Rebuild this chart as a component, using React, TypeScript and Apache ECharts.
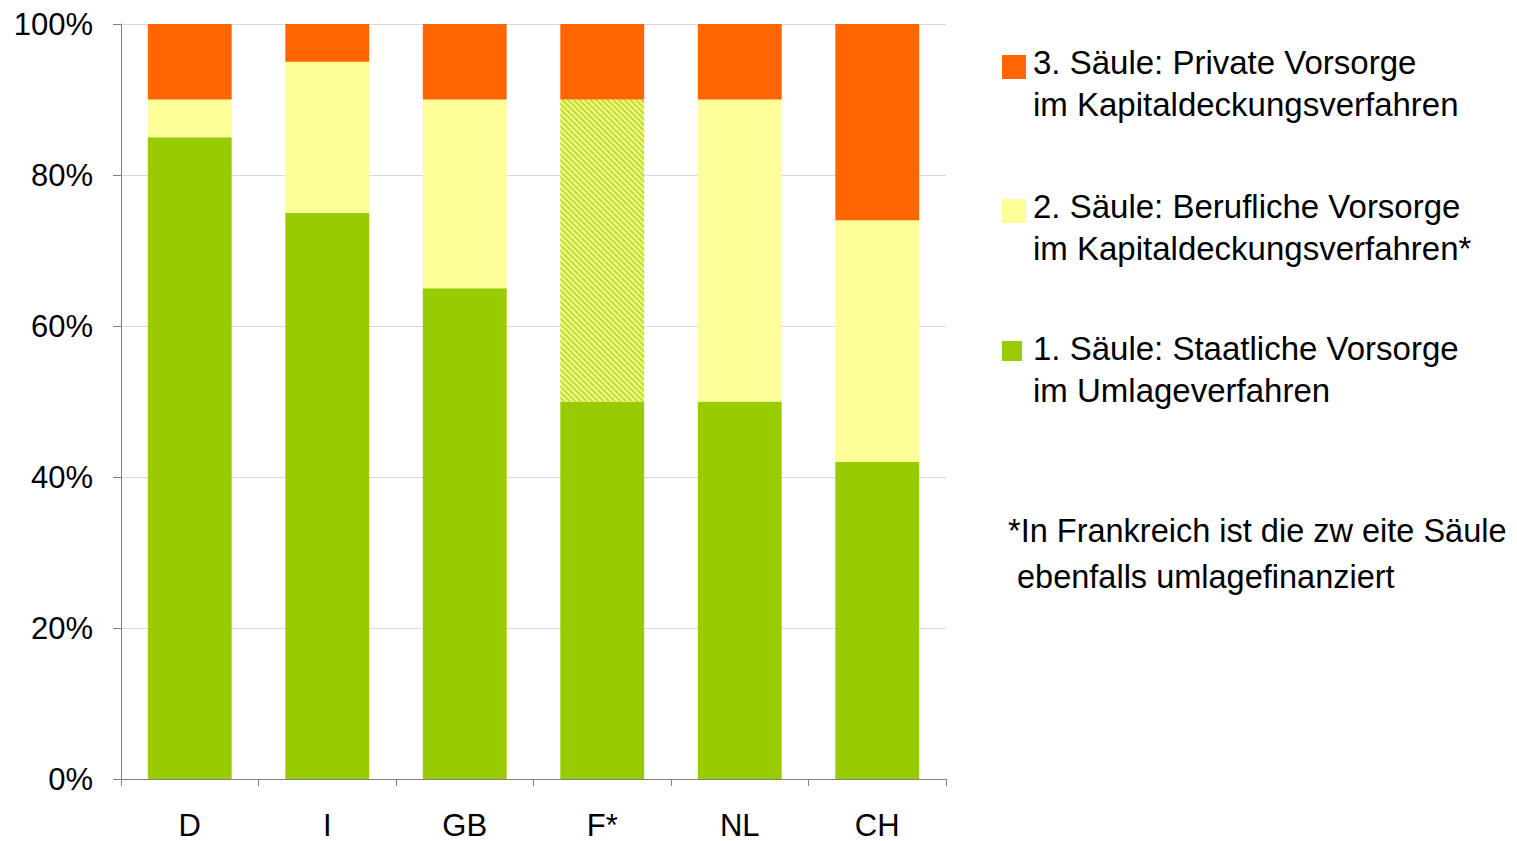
import React, { useEffect, useRef } from "react";
import * as echarts from "echarts";

const categories = ["D", "I", "GB", "F*", "NL", "CH"];
const staatlich = [85, 75, 65, 50, 50, 42];
const beruflich = [5, 20, 25, 40, 40, 32];
const privat = [10, 5, 10, 10, 10, 26];
const hatchedCategory = "F*";
const yTicks = [0, 20, 40, 60, 80, 100];

const seriesNames = [
  "1. Säule: Staatliche Vorsorge\nim Umlageverfahren",
  "2. Säule: Berufliche Vorsorge\nim Kapitaldeckungsverfahren*",
  "3. Säule: Private Vorsorge\nim Kapitaldeckungsverfahren",
];
const footnote = "*In Frankreich ist die zw eite Säule\n ebenfalls umlagefinanziert";

const GREEN = "#99CC00";
const YELLOW = "#FFFF99";
const ORANGE = "#FF6600";
const FONT = "'Liberation Sans', Arial, sans-serif";

export default function App() {
  const ref = useRef<HTMLDivElement>(null);
  useEffect(() => {
    if (!ref.current) return;
    const chart = echarts.init(ref.current, null, { renderer: "svg" });
    const beruflichData = beruflich.map((v, i) =>
      categories[i] === hatchedCategory
        ? {
            value: v,
            itemStyle: {
              color: "#F4FA84",
              decal: {
                symbol: "rect",
                symbolSize: 1,
                dashArrayX: [1, 0],
                dashArrayY: [1.5, 1.5],
                rotation: Math.PI / 4,
                color: "#BFDC3A",
              },
            },
          }
        : v
    );
    const legendItems = [
      { color: ORANGE, name: seriesNames[2], y: 62, size: 24 },
      { color: YELLOW, name: seriesNames[1], y: 206, size: 24 },
      { color: GREEN, name: seriesNames[0], y: 348, size: 20 },
    ];
    const graphics: any[] = [];
    legendItems.forEach((it) => {
      graphics.push({
        type: "rect",
        shape: { x: 1002, y: it.y - 7, width: it.size, height: it.size },
        style: { fill: it.color },
      });
      graphics.push({
        type: "text",
        x: 1033,
        y: it.y - 21,
        style: {
          text: it.name,
          font: `33px ${FONT}`,
          fill: "#000",
          lineHeight: 42,
          textVerticalAlign: "top",
        },
      });
    });
    graphics.push({
      type: "text",
      x: 1008,
      y: 508,
      style: {
        text: footnote,
        font: `32.5px ${FONT}`,
        fill: "#000",
        lineHeight: 46,
      },
    });
    chart.setOption({
      animation: false,
      grid: { left: 121, right: 571, top: 24, bottom: 62 },
      xAxis: {
        type: "category",
        data: categories,
        axisLine: { lineStyle: { color: "#808080", width: 1 } },
        axisTick: { show: true, length: 7, lineStyle: { color: "#808080" } },
        axisLabel: {
          color: "#000",
          fontSize: 31,
          lineHeight: 26,
          fontFamily: FONT,
          margin: 33,
        },
      },
      yAxis: {
        type: "value",
        min: 0,
        max: 100,
        interval: 20,
        axisLine: { show: true, lineStyle: { color: "#808080", width: 1 } },
        axisTick: { show: true, length: 8, lineStyle: { color: "#808080" } },
        axisLabel: {
          color: "#000",
          fontSize: 31,
          fontFamily: FONT,
          margin: 28,
          formatter: (v: number) => (yTicks.includes(v) ? `${v}%` : ""),
        },
        splitLine: { lineStyle: { color: "#D9D9D9", width: 1 } },
      },
      series: [
        {
          name: seriesNames[0],
          type: "bar",
          stack: "total",
          data: staatlich,
          barWidth: "61%",
          itemStyle: { color: GREEN },
        },
        {
          name: seriesNames[1],
          type: "bar",
          stack: "total",
          data: beruflichData,
          itemStyle: { color: YELLOW },
        },
        {
          name: seriesNames[2],
          type: "bar",
          stack: "total",
          data: privat,
          itemStyle: { color: ORANGE },
        },
      ],
      graphic: graphics,
    });
    return () => chart.dispose();
  }, []);
  return (
    <div
      ref={ref}
      style={{ position: "fixed", left: 0, top: 0, width: 1517, height: 841, background: "#fff" }}
    />
  );
}
